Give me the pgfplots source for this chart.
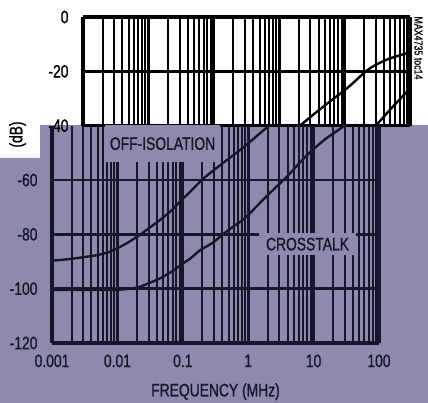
\documentclass[border=0pt]{standalone}
\usepackage{fontspec}
\setmainfont{Liberation Sans}[FakeStretch=0.77, FakeBold=1.0]
\usepackage{pgfplots}
\usepackage{pgfplotstable}
\pgfplotsset{compat=1.18}
\definecolor{bgpurple}{RGB}{142,138,174}
\definecolor{ink}{RGB}{22,22,44}

\pgfplotstableread{
f db
0.001 -89.7
0.002 -89.0
0.005 -87.6
0.008 -86.2
0.011 -84.6
0.015 -82.8
0.022 -80.2
0.03 -77.8
0.045 -74.7
0.07 -70.8
0.09 -68.0
0.13 -64.3
0.195 -60.0
0.3 -56.3
0.5 -52.2
0.75 -49.0
1 -46.5
2.2 -39.5
5 -32.5
10.8 -26.3
18 -21.5
24 -19.0
35 -16.8
50 -15.2
88 -13.4
100 -12.9
}\offiso

\pgfplotstableread{
f db
0.001 -100.5
0.005 -100.5
0.01 -100.4
0.013 -100.2
0.016 -100.0
0.022 -99.3
0.03 -98.0
0.045 -96.2
0.07 -93.5
0.09 -91.5
0.13 -88.9
0.18 -86.0
0.29 -83.0
0.41 -80.0
0.6 -77.0
0.89 -74.0
2 -65.5
4 -58.5
7.8 -51.0
15 -45.0
30 -39.8
50 -34.0
86 -28.0
100 -26.5
}\xtalk

\begin{document}
\begin{tikzpicture}
\path[use as bounding box] (0pt,0pt) rectangle (428pt,403pt);
\fill[bgpurple] (0pt,0pt) -- (428pt,0pt) -- (428pt,278pt) -- (40pt,278pt) -- (40pt,245pt) -- (0pt,245pt) -- cycle;

% upper (white) part
\begin{axis}[
  xmode=log, xmin=0.001, xmax=100,
  scale only axis, width=327pt, height=108.7pt,
  at={(83pt,277.3pt)}, anchor=south west,
  ymin=-40, ymax=0,
  xtick={0.001,0.01,0.1,1,10,100},
  minor xtick={0.002,0.003,0.004,0.005,0.006,0.007,0.008,0.009,0.02,0.03,0.04,0.05,0.06,0.07,0.08,0.09,0.2,0.3,0.4,0.5,0.6,0.7,0.8,0.9,2,3,4,5,6,7,8,9,20,30,40,50,60,70,80,90},
  xmajorgrids, xminorgrids, ymajorgrids,
  major tick length=0pt, minor tick length=0pt,
  tick label style={font=\fontsize{18}{20}\selectfont},
  yticklabel style={xshift=-11pt},
  ytick={-40,-20,0}, yticklabels={-40,-20,0},
  xticklabels={},
  axis x line*=top, axis y line*=box,
  axis line style={black, line width=3.2pt},
  major grid style={black, line width=2.6pt},
  minor grid style={black, line width=2pt},
  ylabel={(dB)},
  ylabel style={at={(axis description cs:-0.2,-0.081)}, anchor=center, font=\fontsize{18}{20}\selectfont},
]
\addplot[black, line width=2.4pt, smooth] table[x=f,y=db]{\offiso};
\addplot[black, line width=2.4pt, smooth] table[x=f,y=db]{\xtalk};
\end{axis}

% lower (tinted) part
\begin{axis}[
  xmode=log, xmin=0.001, xmax=100,
  scale only axis, width=327pt, height=217.3pt,
  at={(52pt,60pt)}, anchor=south west,
  ymin=-120, ymax=-40,
  xtick={0.001,0.01,0.1,1,10,100},
  minor xtick={0.002,0.003,0.004,0.005,0.006,0.007,0.008,0.009,0.02,0.03,0.04,0.05,0.06,0.07,0.08,0.09,0.2,0.3,0.4,0.5,0.6,0.7,0.8,0.9,2,3,4,5,6,7,8,9,20,30,40,50,60,70,80,90},
  xmajorgrids, xminorgrids, ymajorgrids,
  major tick length=0pt, minor tick length=0pt,
  tick label style={font=\fontsize{18}{20}\selectfont, text=ink},
  yticklabel style={xshift=-11pt},
  xticklabel style={yshift=-8pt},
  ytick={-120,-100,-80,-60}, yticklabels={-120,-100,-80,-60},
  xticklabels={0.001,0.01,0.1,1,10,100},
  axis x line*=bottom, axis y line*=box,
  axis line style={ink, line width=3.2pt},
  major grid style={ink, line width=2.6pt},
  minor grid style={ink, line width=2pt},
  xlabel={FREQUENCY (MHz)},
  xlabel style={at={(axis description cs:0.5,-0.224)}, anchor=center, text=ink, font=\fontsize{18}{20}\selectfont},
]
\addplot[ink, line width=2.4pt, smooth] table[x=f,y=db]{\offiso};
\addplot[ink, line width=2.4pt, smooth] table[x=f,y=db]{\xtalk};
\node[fill=bgpurple, inner sep=0pt, minimum width=115pt, minimum height=37pt, text=ink, font=\fontsize{18}{20}\selectfont] at (axis cs:0.049,-46.6) {OFF-ISOLATION};
\node[fill=bgpurple, inner sep=0pt, minimum width=97pt, minimum height=22pt, text=ink, font=\fontsize{18}{20}\selectfont] at (axis cs:8.07,-83.6) {CROSSTALK};
\end{axis}

\node[rotate=-90, font=\fontsize{11.5}{13}\selectfont, text=black] at (418.5pt,355pt) {MAX4735 toc14};
\end{tikzpicture}
\end{document}
